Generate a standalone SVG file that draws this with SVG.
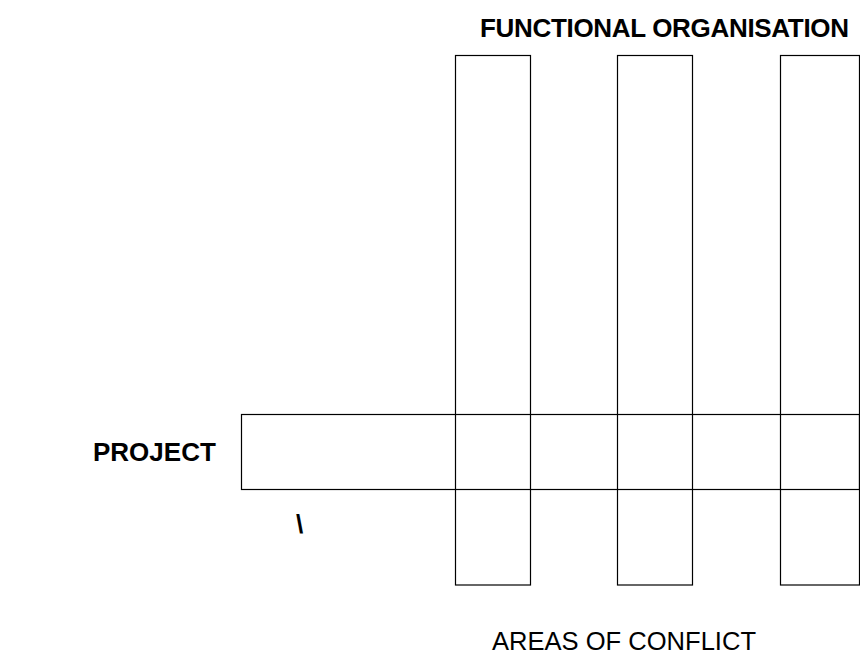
<svg xmlns="http://www.w3.org/2000/svg" width="860" height="656" viewBox="0 0 860 656">
<style>
.box{fill:none;stroke:#000;stroke-width:1.2}
.lbl{font-family:"Liberation Sans",Arial,sans-serif;fill:#000}
.b{font-weight:bold}
</style>
<rect width="860" height="656" fill="#fff"/>
<g id="functions">
<rect id="func1" class="box" x="455.5" y="55.5" width="75" height="529.5"/>
<rect id="func2" class="box" x="617.5" y="55.5" width="75" height="529.5"/>
<rect id="func3" class="box" x="780.5" y="55.5" width="79" height="529.5"/>
</g>
<g id="project">
<rect class="box" x="241.5" y="414.5" width="618" height="75"/>
</g>
<g id="connectors"></g>
<g id="labels">
<text class="lbl b" x="480" y="37" font-size="26" textLength="369" lengthAdjust="spacing">FUNCTIONAL ORGANISATION</text>
<text class="lbl b" x="93" y="461" font-size="26">PROJECT</text>
<text class="lbl b" x="296" y="533" font-size="26">\</text>
<text class="lbl" x="492" y="650" font-size="25" textLength="264" lengthAdjust="spacingAndGlyphs">AREAS OF CONFLICT</text>
</g>
</svg>
